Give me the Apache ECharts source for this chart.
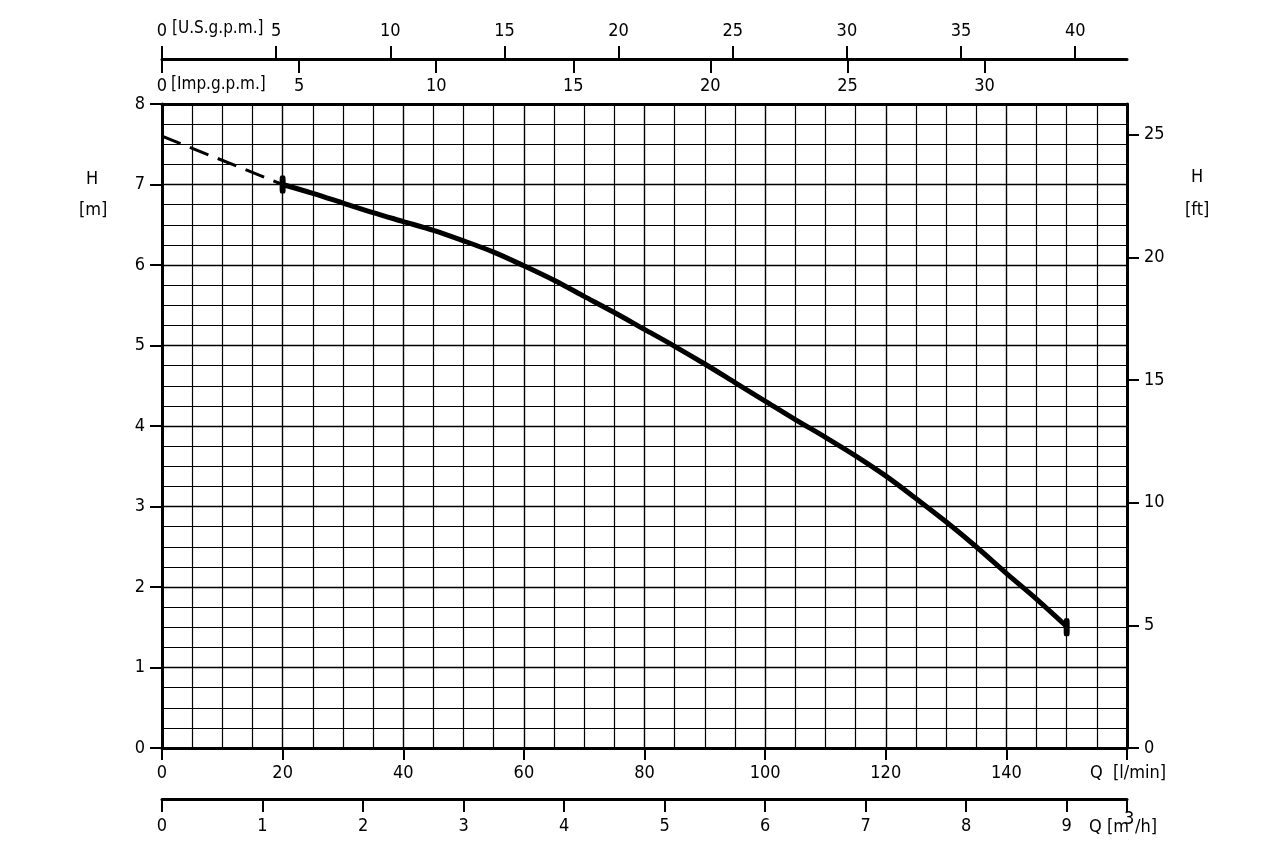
<!DOCTYPE html>
<html>
<head>
<meta charset="utf-8">
<script src="https://cdn.jsdelivr.net/npm/echarts@6/dist/echarts.min.js"></script>
<style>html,body{margin:0;padding:0;background:#fff}#c{width:1280px;height:851px}</style>
</head>
<body>
<div id="c"></div>
<script>
// ---- data ----
const flowLpm = [20,25,30,35,40,45,50,55,60,65,70,75,80,85,90,95,100,105,110,115,120,125,130,135,140,145,150];
const headM   = [7.00,6.89,6.77,6.65,6.54,6.43,6.30,6.16,5.99,5.81,5.61,5.41,5.20,4.99,4.77,4.54,4.31,4.08,3.86,3.63,3.38,3.10,2.81,2.50,2.17,1.85,1.51];
const dashFlow = [0,20];
const dashHead = [7.6,7.0];
const endFlow = [20,150];
const endHead = [7.0,1.5];
const lpmLabels = [0,20,40,60,80,100,120,140];
const lpmTicks = [0,20,40,60,80,100,120,140,160];
const m3hLabels = [0,1,2,3,4,5,6,7,8,9];
const m3hTicks = [0,1,2,3,4,5,6,7,8,9,9.6];
const usGpmLabels = [0,5,10,15,20,25,30,35,40];
const impGpmLabels = [0,5,10,15,20,25,30];
const ftLabels = [0,5,10,15,20,25];
const mLabels = [0,1,2,3,4,5,6,7,8];

// unit conversions
const Q_MAX = 160, H_MAX = 8;
const LPM_PER_M3H = 1000/60, LPM_PER_USG = 3.78541, LPM_PER_IMPG = 4.54609, M_PER_FT = 0.3048;

const FONT = "'DejaVu Sans Condensed','DejaVu Sans',sans-serif";
const FS = 18;
const lbl = (extra) => Object.assign({color:'#000', fontFamily:FONT, fontSize:FS}, extra||{});
const txt = (s, left, top, fs) => ({type:'text', left, top, style:{text:s, font:`${fs||FS}px ${FONT}`, fill:'#000'}});

const chart = echarts.init(document.getElementById('c'), null, {renderer:'canvas'});
const option = {
  animation:false,
  backgroundColor:'#fff',
  grid:{left:162, right:153, top:104, bottom:103, containLabel:false},
  xAxis:[
    { // l/min bottom
      type:'value', position:'bottom', min:0, max:Q_MAX, interval:20,
      axisLine:{show:true, onZero:false, lineStyle:{color:'#000', width:3}},
      axisTick:{show:true, length:12, customValues:lpmTicks, lineStyle:{color:'#000', width:2}},
      axisLabel:lbl({margin:16, customValues:lpmLabels}),
      splitLine:{show:true, lineStyle:{color:'#000', width:1.4}},
      minorTick:{show:false, splitNumber:4},
      minorSplitLine:{show:true, lineStyle:{color:'#000', width:1.2}}
    },
    { // m3/h bottom
      type:'value', position:'bottom', offset:51, min:0, max:Q_MAX/LPM_PER_M3H,
      axisLine:{show:true, onZero:false, lineStyle:{color:'#000', width:3}},
      axisTick:{show:true, length:13, customValues:m3hTicks, lineStyle:{color:'#000', width:2}},
      axisLabel:lbl({margin:18, customValues:m3hLabels}),
      splitLine:{show:false}
    },
    { // US gpm top
      type:'value', position:'top', offset:45, min:0, max:Q_MAX/LPM_PER_USG,
      axisLine:{show:true, onZero:false, lineStyle:{color:'#000', width:3}},
      axisTick:{show:true, length:13, customValues:usGpmLabels, lineStyle:{color:'#000', width:2}},
      axisLabel:lbl({margin:19, customValues:usGpmLabels}),
      splitLine:{show:false}
    },
    { // Imp gpm top (ticks and labels below its line)
      type:'value', position:'top', offset:45, min:0, max:Q_MAX/LPM_PER_IMPG,
      axisLine:{show:false, onZero:false},
      axisTick:{show:true, inside:true, length:14, customValues:impGpmLabels, lineStyle:{color:'#000', width:2}},
      axisLabel:lbl({inside:true, margin:18, customValues:impGpmLabels}),
      splitLine:{show:false}
    },
    { // top frame
      type:'value', position:'top', offset:0, min:0, max:Q_MAX,
      axisLine:{show:true, onZero:false, lineStyle:{color:'#000', width:3}},
      axisTick:{show:false}, axisLabel:{show:false}, splitLine:{show:false}
    }
  ],
  yAxis:[
    { // metres left
      type:'value', position:'left', min:0, max:H_MAX, interval:1,
      axisLine:{show:true, onZero:false, lineStyle:{color:'#000', width:3}},
      axisTick:{show:true, length:12, lineStyle:{color:'#000', width:2}},
      axisLabel:lbl({margin:17, customValues:mLabels}),
      splitLine:{show:true, lineStyle:{color:'#000', width:1.4}},
      minorTick:{show:false, splitNumber:4},
      minorSplitLine:{show:true, lineStyle:{color:'#000', width:1.2}}
    },
    { // feet right
      type:'value', position:'right', min:0, max:H_MAX/M_PER_FT,
      axisLine:{show:true, onZero:false, lineStyle:{color:'#000', width:3}},
      axisTick:{show:true, length:12, customValues:ftLabels, lineStyle:{color:'#000', width:2}},
      axisLabel:lbl({margin:17, customValues:ftLabels}),
      splitLine:{show:false}
    }
  ],
  series:[
    {
      type:'line', xAxisIndex:0, yAxisIndex:0, symbol:'none', smooth:0.3,
      data: flowLpm.map((q,i)=>[q, headM[i]]),
      lineStyle:{color:'#000', width:5}, z:5
    },
    {
      type:'line', xAxisIndex:0, yAxisIndex:0, symbol:'none',
      data: dashFlow.map((q,i)=>[q, dashHead[i]]),
      lineStyle:{color:'#000', width:3, type:[20,10]}, z:5
    },
    {
      type:'scatter', xAxisIndex:0, yAxisIndex:0, symbol:'roundRect', symbolSize:[6,18],
      data: endFlow.map((q,i)=>[q, endHead[i]]),
      itemStyle:{color:'#000', opacity:1}, z:6
    }
  ],
  graphic:[
    txt('[U.S.g.p.m.]', 172, 20, 17),
    txt('[Imp.g.p.m.]', 171, 76, 17),
    txt('H', 86, 170),
    txt('[m]', 79, 201),
    txt('H', 1191, 168),
    txt('[ft]', 1185, 201),
    txt('Q  [l/min]', 1090, 764),
    txt('Q [m', 1089, 818),
    txt('3', 1124, 810),
    txt('/h]', 1135, 818)
  ]
};
chart.setOption(option);
</script>
</body>
</html>
